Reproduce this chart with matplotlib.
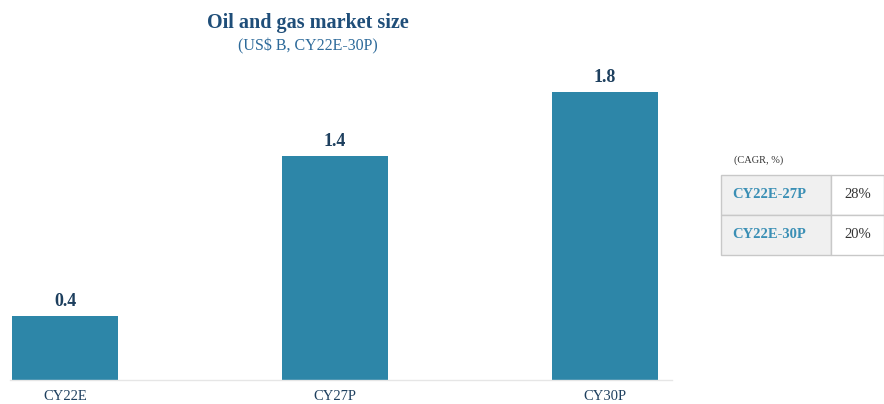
import matplotlib
matplotlib.use('Agg')

import matplotlib.pyplot as plt
from matplotlib.patches import Rectangle

# -----------------------------
# Data
# -----------------------------
categories = ['CY22E', 'CY27P', 'CY30P']
values = [0.4, 1.4, 1.8]
cagr_periods = ['CY22E-27P', 'CY22E-30P']
cagr_values = ['28%', '20%']

bar_color = '#2d86a8'
navy = '#1d3f5e'
title_color = '#1f4e79'

plt.rcParams['font.family'] = ['Liberation Serif', 'DejaVu Serif']

W, H = 884, 404
fig = plt.figure(figsize=(W / 100, H / 100), dpi=100)

# axes: x from px 10 to 672, y from px 380 (bottom) to 60 (top)
ax = fig.add_axes([10 / W, (H - 380) / H, 662 / W, 320 / H])
x = range(len(categories))
bars = ax.bar(x, values, width=0.39, color=bar_color)
ax.set_xlim(-0.204, 2.248)
ax.set_ylim(0, 2.0)

for b, v in zip(bars, values):
    ax.text(b.get_x() + b.get_width() / 2, v + 0.04, f'{v:.1f}',
            ha='center', va='bottom', fontsize=13, fontweight='bold', color=navy)

ax.set_xticks(list(x))
ax.set_xticklabels(categories, fontsize=10.5, color=navy)
ax.tick_params(axis='x', length=0, pad=7)
ax.set_yticks([])
for s in ['top', 'right', 'left']:
    ax.spines[s].set_visible(False)
ax.spines['bottom'].set_color('#e6e6e6')
ax.spines['bottom'].set_linewidth(1)

# titles
fig.text(308 / W, 1 - 23 / H, 'Oil and gas market size', ha='center', va='center',
         fontsize=14.5, fontweight='bold', color=title_color)
fig.text(308 / W, 1 - 46 / H, '(US$ B, CY22E-30P)', ha='center', va='center',
         fontsize=11.5, color='#2d6a9a')

# -----------------------------
# CAGR table
# -----------------------------
fig.text(734 / W, 1 - 160 / H, '(CAGR, %)', ha='left', va='center',
         fontsize=7.5, color='#333333')
x0, x1, x2 = 721, 831, 884
row_h = 40
y_top = 175
for k, (period, val) in enumerate(zip(cagr_periods, cagr_values)):
    yt = y_top + k * row_h
    fig.patches.append(Rectangle((x0 / W, 1 - (yt + row_h) / H), (x1 - x0) / W, row_h / H,
                                 transform=fig.transFigure, facecolor='#f0f0f0',
                                 edgecolor='#c8c8c8', linewidth=1))
    fig.patches.append(Rectangle((x1 / W, 1 - (yt + row_h) / H), (x2 - x1) / W, row_h / H,
                                 transform=fig.transFigure, facecolor='white',
                                 edgecolor='#c8c8c8', linewidth=1))
    fig.text((x0 + 11) / W, 1 - (yt + row_h / 2) / H, period, ha='left', va='center',
             fontsize=10.5, fontweight='bold', color='#3a8fb5')
    fig.text(858 / W, 1 - (yt + row_h / 2) / H, val, ha='center', va='center',
             fontsize=10.5, color='#333333')

fig.savefig('out.png', dpi=100)
